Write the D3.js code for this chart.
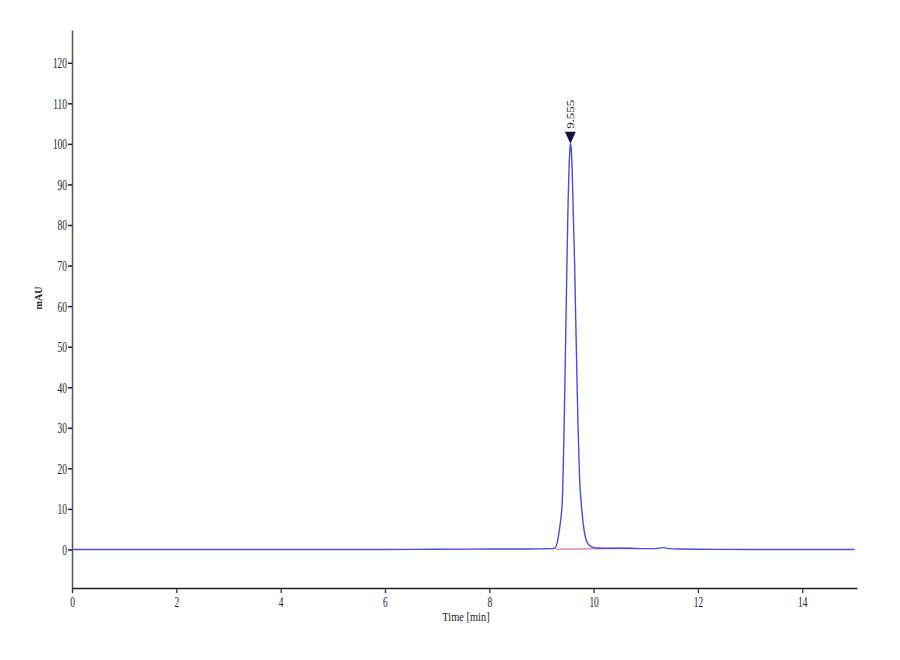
<!DOCTYPE html>
<html lang="en">
    <head>
    	<meta charset="utf-8">
    	<title>Chromatogram</title>
    	<script type="text/javascript" src="https://cdn.jsdelivr.net/npm/d3@7"></script>
        <style type="text/css">
        body { margin: 0; background: #fff; }
        text { font-family: "Liberation Serif", "Times New Roman", serif; fill: #222; }
        </style>
    </head>
    <body>
    	<script type="text/javascript">

            //Trace (time in min, signal in mAU)
            var times = [0, 1, 2, 3, 4, 5, 6, 7, 8, 8.6, 9.0, 9.2, 9.26, 9.30, 9.34, 9.38, 9.40,
                         9.43, 9.464, 9.489, 9.51, 9.527, 9.545, 9.555, 9.57, 9.585, 9.603,
                         9.62, 9.636, 9.655, 9.669, 9.70, 9.73, 9.764, 9.80, 9.86, 9.92,
                         10.0, 10.08, 10.3, 10.6, 11.0, 11.2, 11.32, 11.45, 11.7, 12, 13, 14, 15];
            var signal = [0, 0, 0, 0, 0, 0, 0, 0.05, 0.1, 0.1, 0.15, 0.2, 0.4, 1.5, 4.5, 8.5, 12,
                          27, 51.5, 70.5, 85, 93, 98.5, 100, 99, 95, 87,
                          78, 70.5, 58, 50, 31, 18, 11.3, 6.5, 2.2, 1.0,
                          0.5, 0.35, 0.3, 0.3, 0.2, 0.2, 0.45, 0.2, 0.1, 0.05, 0, 0, 0];

            //Integration baseline
            var baseTimes = [9.28, 10.75];
            var baseSignal = [0.05, 0.3];

            //Peak label
            var peakTime = 9.555;
            var peakValue = 100;
            var peakLabel = "9.555";

            var xTicks = [0, 2, 4, 6, 8, 10, 12, 14];
            var yTicks = [0, 10, 20, 30, 40, 50, 60, 70, 80, 90, 100, 110, 120];

            var w = 900;
            var h = 660;
            var squeeze = 0.65;   // the original lettering is narrow

            var xScale = d3.scaleLinear()
                           .domain([0, 15.05])
                           .range([72, 857]);

            var yScale = d3.scaleLinear()
                           .domain([-9.5, 128.1])
                           .range([588, 29.9]);

            var svg = d3.select("body")
                        .append("svg")
                        .attr("width", w)
                        .attr("height", h);

            //Y axis
            var yAxis = svg.append("g")
                .attr("transform", "translate(72,0)")
                .call(d3.axisLeft(yScale).tickValues(yTicks).tickSize(4).tickSizeOuter(0));
            yAxis.select(".domain").attr("stroke", "#555").attr("stroke-width", 1.5);
            yAxis.selectAll(".tick line").attr("stroke", "#1c1c50").attr("stroke-width", 1.5);
            yAxis.selectAll(".tick text")
                .attr("font-size", "14.5px")
                .attr("x", -5 / squeeze)
                .attr("dy", "0.34em")
                .attr("transform", "scale(" + squeeze + ",1)");

            //X axis
            var xAxis = svg.append("g")
                .attr("transform", "translate(0,588)")
                .call(d3.axisBottom(xScale).tickValues(xTicks).tickSize(5).tickSizeOuter(0));
            xAxis.select(".domain").attr("stroke", "#222").attr("stroke-width", 1.5);
            xAxis.selectAll(".tick line").attr("stroke", "#333").attr("stroke-width", 1.3);
            xAxis.selectAll(".tick text")
                .attr("font-size", "14.5px")
                .attr("x", 0)
                .attr("y", 19)
                .attr("dy", 0)
                .attr("transform", "scale(" + squeeze + ",1)");

            //Integration baseline
            svg.append("path")
                .datum(d3.zip(baseTimes, baseSignal))
                .attr("fill", "none")
                .attr("stroke", "#e889b0")
                .attr("stroke-width", 1.3)
                .attr("d", d3.line()
                    .x(function(d) { return xScale(d[0]); })
                    .y(function(d) { return yScale(d[1]); }));

            //Trace
            svg.append("path")
                .datum(d3.zip(times, signal))
                .attr("fill", "none")
                .attr("stroke", "#4b4be6")
                .attr("stroke-width", 1.4)
                .attr("d", d3.line()
                    .curve(d3.curveMonotoneX)
                    .x(function(d) { return xScale(d[0]); })
                    .y(function(d) { return yScale(d[1]); }));

            //Peak marker
            var px = xScale(peakTime);
            var py = yScale(peakValue);
            svg.append("path")
                .attr("d", "M" + (px - 5.5) + "," + (py - 12) + "L" + (px + 5.5) + "," + (py - 12) + "L" + px + "," + py + "Z")
                .attr("fill", "#141440");

            svg.append("text")
                .attr("transform", "translate(" + (px + 3.5) + "," + (py - 15) + ") rotate(-90) scale(1,0.75)")
                .attr("font-size", "13px")
                .text(peakLabel);

            //Axis titles
            svg.append("text")
                .attr("transform", "translate(466,621) scale(0.8,1)")
                .attr("text-anchor", "middle")
                .attr("font-size", "13px")
                .text("Time [min]");

            svg.append("text")
                .attr("transform", "translate(42,298) rotate(-90)")
                .attr("text-anchor", "middle")
                .attr("font-size", "10px")
                .attr("font-weight", "bold")
                .text("mAU");

        </script>
    </body>
</html>
